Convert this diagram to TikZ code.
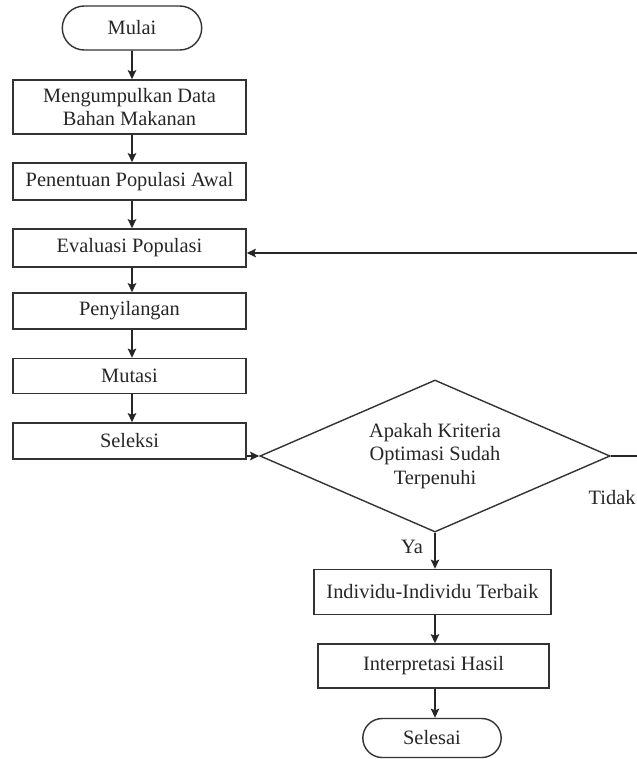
\documentclass[tikz,border=0pt]{standalone}
\usepackage{fontspec}
\setmainfont{Liberation Serif}
\usepackage{tikz}
\usetikzlibrary{arrows.meta,positioning,calc,shapes.geometric,shapes.misc}

\begin{document}
\begin{tikzpicture}[
  x=0.025cm, y=-0.025cm,
  line width=1pt, draw=black!80,
  block/.style={draw=black!80, rectangle, inner sep=2pt, align=center,
    minimum width=5.825cm, text=black!85,
    font=\fontsize{14.5}{16.5}\selectfont},
  term/.style={draw=black!80, rounded rectangle, inner sep=2pt, align=center,
    text=black!85, font=\fontsize{14.5}{16.5}\selectfont},
  decision/.style={draw=black!80, diamond, aspect=2.3, inner sep=0pt, align=center,
    minimum width=8.75cm, minimum height=3.8cm, text=black!85,
    font=\fontsize{14.5}{16.5}\selectfont},
  lbl/.style={text=black!85, inner sep=0pt, font=\fontsize{14.5}{16.5}\selectfont},
  arr/.style={-{Stealth[length=6.5pt,width=6pt,inset=1.2pt]}, draw=black!85, line width=1.1pt}
]
\useasboundingbox (0,0) rectangle (637,759);

\node[term, minimum width=3.625cm, minimum height=1.1cm] (mulai) at (132,28) {Mulai};
\node[block, minimum height=1.35cm] (kumpul) at (129.5,107) {Mengumpulkan Data\\Bahan Makanan};
\node[block, minimum height=0.925cm] (awal) at (129.5,181.5) {Penentuan Populasi Awal};
\node[block, minimum height=0.95cm] (eval) at (129.5,248) {Evaluasi Populasi};
\node[block, minimum height=0.9cm] (silang) at (129.5,311) {Penyilangan};
\node[block, minimum height=0.875cm] (mutasi) at (129.5,376) {Mutasi};
\node[block, minimum height=0.9cm] (seleksi) at (129.5,441) {Seleksi};
\node[decision] (cek) at (435,456) {Apakah Kriteria\\Optimasi Sudah\\Terpenuhi};
\node[block, minimum width=5.925cm, minimum height=1.125cm] (terbaik) at (432.5,592) {Individu-Individu Terbaik};
\node[block, minimum width=5.775cm, minimum height=1.1cm] (hasil) at (433.5,666) {Interpretasi Hasil};
\node[term, minimum width=3.6cm, minimum height=0.975cm] (selesai) at (432,738) {Selesai};

\node[lbl] (ya) at (412,547) {Ya};
\node[lbl, anchor=west] (tidak) at (588,498) {Tidak};
\coordinate (balik) at (700,0);

\draw[arr] (mulai) -- (mulai |- kumpul.north);
\draw[arr] (mulai |- kumpul.south) -- (mulai |- awal.north);
\draw[arr] (mulai |- awal.south) -- (mulai |- eval.north);
\draw[arr] (mulai |- eval.south) -- (mulai |- silang.north);
\draw[arr] (mulai |- silang.south) -- (mulai |- mutasi.north);
\draw[arr] (mulai |- mutasi.south) -- (mulai |- seleksi.north);
\draw[arr] (seleksi.east |- cek.west) -- (cek.west);
\draw[arr] (cek.south) -- (terbaik.north -| cek.south);
\draw[arr] (terbaik.south -| cek.south) -- (hasil.north -| cek.south);
\draw[arr] (hasil.south -| cek.south) -- (selesai.north -| cek.south);
\draw[arr] (cek.east) -| ($(balik |- eval.east)+(0,5)$) -- ($(eval.east)+(0,5)$);
\end{tikzpicture}
\end{document}
